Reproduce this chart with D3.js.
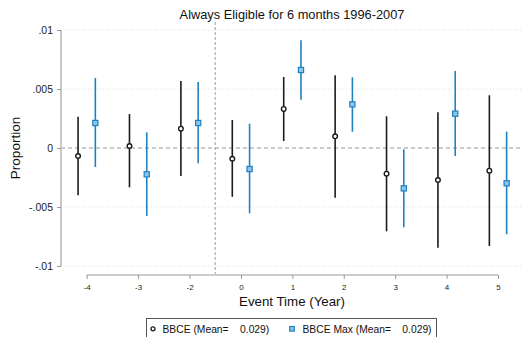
<!DOCTYPE html>
<html>
<head>
<meta charset="utf-8">
<script src="https://cdn.jsdelivr.net/npm/d3@7"></script>
<style>
  html, body { margin: 0; padding: 0; background: #fff; }
  svg { display: block; font-family: "Liberation Sans", Arial, Helvetica, sans-serif; }
  .pre { white-space: pre; }
</style>
</head>
<body>
<svg id="chart" width="521" height="337"></svg>
<script>
// Event-time labels (year -1 is the omitted reference period)
const eventLabels = ["-4", "-3", "-2", "0", "1", "2", "3", "4", "5"];

// BBCE: point estimates with 95% confidence bounds
const bbceEst = [-0.00068, 0.00017, 0.00164, -0.00091, 0.00331, 0.00099, -0.00218, -0.00271, -0.00192];
const bbceLo  = [-0.00400, -0.00333, -0.00237, -0.00413, 0.00059, -0.00421, -0.00706, -0.00845, -0.00831];
const bbceHi  = [0.00265, 0.00288, 0.00568, 0.00237, 0.00602, 0.00616, 0.00269, 0.00303, 0.00447];

// BBCE Max: point estimates with 95% confidence bounds
const maxEst = [0.00212, -0.00223, 0.00212, -0.00178, 0.00661, 0.00370, -0.00342, 0.00291, -0.00299];
const maxLo  = [-0.00161, -0.00576, -0.00130, -0.00553, 0.00409, 0.00138, -0.00672, -0.00068, -0.00731];
const maxHi  = [0.00593, 0.00133, 0.00559, 0.00206, 0.00913, 0.00599, -0.00011, 0.00653, 0.00138];

const yTicks = [0.01, 0.005, 0, -0.005, -0.01];
const yTickLabels = [".01", ".005", "0", "-.005", "-.01"];

const seriesNames = ["BBCE (Mean=    0.029)", "BBCE Max (Mean=    0.029)"];
const titleText = "Always Eligible for 6 months 1996-2007";

const svg = d3.select("#chart");
const blue = "#1f80c2";
const blueFill = "#8cc4ea";
const dark = "#1b1b1b";

const x = d3.scaleLinear().domain([0, eventLabels.length - 1]).range([86.7, 498]);
const y = d3.scaleLinear().domain([-0.01, 0.01]).range([266, 30]);
const offset = 0.168;

// horizontal dotted gridlines
svg.append("g").selectAll("line")
  .data(yTicks.filter(v => v !== 0))
  .join("line")
  .attr("x1", 61).attr("x2", 521)
  .attr("y1", d => y(d)).attr("y2", d => y(d))
  .attr("stroke", "#d4d4d4").attr("stroke-width", 0.8)
  .attr("stroke-dasharray", "1,2");

// zero reference line
svg.append("line")
  .attr("x1", 61).attr("x2", 521)
  .attr("y1", y(0)).attr("y2", y(0))
  .attr("stroke", "#8a8a8a").attr("stroke-width", 0.9)
  .attr("stroke-dasharray", "4,3");

// treatment onset line between -2 and 0
svg.append("line")
  .attr("x1", x(2.5)).attr("x2", x(2.5))
  .attr("y1", 22).attr("y2", 274)
  .attr("stroke", "#a88a9a").attr("stroke-width", 0.9)
  .attr("stroke-dasharray", "3,2");

// y axis
const yAxis = d3.axisLeft(y).tickValues(yTicks)
  .tickFormat((d, i) => yTickLabels[i]).tickSize(4).tickPadding(4);
const gy = svg.append("g").attr("transform", "translate(61,0)").call(yAxis);
gy.select(".domain").attr("stroke", "#c8c8c8").attr("stroke-width", 2)
  .attr("d", `M0,${y(0.01)}V${y(-0.01)}`);
gy.selectAll(".tick line").attr("stroke", "#999");
gy.selectAll(".tick text").attr("font-size", 10.5).attr("fill", "#222")
  .attr("font-family", "Liberation Sans, Arial, sans-serif");

// x axis
const xAxis = d3.axisBottom(x).tickValues(d3.range(eventLabels.length))
  .tickFormat(i => eventLabels[i]).tickSize(4).tickPadding(5);
const gx = svg.append("g").attr("transform", "translate(0,275)").call(xAxis);
gx.select(".domain").attr("stroke", "#999").attr("stroke-width", 1)
  .attr("d", `M${x(0)},0H${x(eventLabels.length - 1)}`);
gx.selectAll(".tick line").attr("stroke", "#999");
gx.selectAll(".tick text").attr("font-size", 8).attr("fill", "#222")
  .attr("font-family", "Liberation Sans, Arial, sans-serif");

// confidence intervals and estimates
const idx = d3.range(eventLabels.length);

svg.append("g").selectAll("line")
  .data(idx).join("line")
  .attr("x1", i => x(i - offset)).attr("x2", i => x(i - offset))
  .attr("y1", i => y(bbceHi[i])).attr("y2", i => y(bbceLo[i]))
  .attr("stroke", dark).attr("stroke-width", 1.6);

svg.append("g").selectAll("line")
  .data(idx).join("line")
  .attr("x1", i => x(i + offset)).attr("x2", i => x(i + offset))
  .attr("y1", i => y(maxHi[i])).attr("y2", i => y(maxLo[i]))
  .attr("stroke", blue).attr("stroke-width", 1.6);

svg.append("g").selectAll("circle")
  .data(idx).join("circle")
  .attr("cx", i => x(i - offset)).attr("cy", i => y(bbceEst[i]))
  .attr("r", 2.3).attr("fill", "#fff")
  .attr("stroke", dark).attr("stroke-width", 1.4);

svg.append("g").selectAll("rect")
  .data(idx).join("rect")
  .attr("x", i => x(i + offset) - 2.6).attr("y", i => y(maxEst[i]) - 2.6)
  .attr("width", 5.2).attr("height", 5.2)
  .attr("fill", blueFill).attr("stroke", blue).attr("stroke-width", 1.2);

// titles
svg.append("text").attr("x", 292).attr("y", 18.5)
  .attr("text-anchor", "middle").attr("font-size", 12.8).attr("fill", "#111")
  .text(titleText);

svg.append("text").attr("x", 292).attr("y", 306)
  .attr("text-anchor", "middle").attr("font-size", 13.3).attr("fill", "#111")
  .text("Event Time (Year)");

svg.append("text")
  .attr("transform", `translate(20,${y(0)}) rotate(-90)`)
  .attr("text-anchor", "middle").attr("font-size", 13.5).attr("fill", "#111")
  .text("Proportion");

// legend
const lg = svg.append("g");
lg.append("rect").attr("x", 146.5).attr("y", 318.5).attr("width", 290).attr("height", 30)
  .attr("fill", "#fff").attr("stroke", "#555").attr("stroke-width", 1);
lg.append("circle").attr("cx", 153).attr("cy", 328.8).attr("r", 2)
  .attr("fill", "#fff").attr("stroke", dark).attr("stroke-width", 1.3);
lg.append("text").attr("class", "pre").attr("xml:space", "preserve")
  .attr("x", 162.5).attr("y", 333).attr("font-size", 10.3).attr("fill", "#111")
  .text(seriesNames[0]);
lg.append("rect").attr("x", 289.7).attr("y", 326.5).attr("width", 4.6).attr("height", 4.6)
  .attr("fill", blueFill).attr("stroke", blue).attr("stroke-width", 1.2);
lg.append("text").attr("class", "pre").attr("xml:space", "preserve")
  .attr("x", 302.5).attr("y", 333).attr("font-size", 10.3).attr("fill", "#111")
  .text(seriesNames[1]);
</script>
</body>
</html>
